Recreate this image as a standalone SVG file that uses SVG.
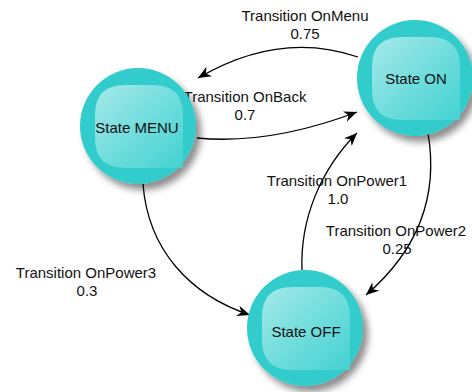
<svg xmlns="http://www.w3.org/2000/svg" width="472" height="392" viewBox="0 0 472 392">
  <defs>
    <filter id="shadow" x="-30%" y="-30%" width="160%" height="160%">
      <feGaussianBlur in="SourceAlpha" stdDeviation="3.5"/>
      <feOffset dx="5" dy="6" result="b"/>
      <feComponentTransfer><feFuncA type="linear" slope="0.45"/></feComponentTransfer>
      <feMerge><feMergeNode/><feMergeNode in="SourceGraphic"/></feMerge>
    </filter>
    <linearGradient id="gloss" x1="0" y1="0" x2="1" y2="1">
      <stop offset="0" stop-color="#a6e9e9"/>
      <stop offset="0.55" stop-color="#6ddcdc"/>
      <stop offset="1" stop-color="#45d2d2"/>
    </linearGradient>
    <marker id="arrow" viewBox="-13 -6 14 12" refX="0" refY="0" markerWidth="14" markerHeight="12" markerUnits="userSpaceOnUse" orient="auto">
      <path d="M-13,-5.5 L0,0 L-13,5.5 L-9,0 Z" fill="#000"/>
    </marker>
    <!-- state bubble: teal disc with glossy rounded square -->
    <g id="bubble">
      <circle r="58" fill="#33cccc" filter="url(#shadow)"/>
      <path d="M-13,-41 H15 Q45,-41 45,-11 V42 H-13 Q-43,42 -43,12 V-11 Q-43,-41 -13,-41 Z" fill="url(#gloss)"/>
    </g>
  </defs>
  <style>
    text { font-family: "Liberation Sans", Arial, sans-serif; font-size: 15px; fill: #111; text-anchor: middle; }
    .edge { fill: none; stroke: #000; stroke-width: 1.3; marker-end: url(#arrow); }
  </style>
  <rect width="472" height="392" fill="#fff"/>

  <g id="connectors">
    <path class="edge" d="M358,57 Q280,30 198,78"/>
    <path class="edge" d="M197,138 Q270,145 357,112"/>
    <path class="edge" d="M302,270 C300,220 320,170 357,133"/>
    <path class="edge" d="M428,133 C436,180 430,240 366,295"/>
    <path class="edge" d="M143,184 C148,250 190,295 250,315"/>
  </g>

  <g id="labels">
    <text x="305" y="21">Transition OnMenu</text>
    <text x="305" y="39">0.75</text>
    <text x="245" y="102">Transition OnBack</text>
    <text x="245" y="120">0.7</text>
    <text x="337" y="186">Transition OnPower1</text>
    <text x="338" y="204">1.0</text>
    <text x="396" y="236">Transition OnPower2</text>
    <text x="397" y="254">0.25</text>
    <text x="86" y="278">Transition OnPower3</text>
    <text x="87" y="296">0.3</text>
  </g>

  <g id="state-menu">
    <use href="#bubble" x="138" y="126"/>
    <text x="137" y="133">State MENU</text>
  </g>
  <g id="state-on">
    <use href="#bubble" x="415" y="78"/>
    <text x="416" y="84">State ON</text>
  </g>
  <g id="state-off">
    <use href="#bubble" x="305" y="328"/>
    <text x="306" y="337">State OFF</text>
  </g>
</svg>
